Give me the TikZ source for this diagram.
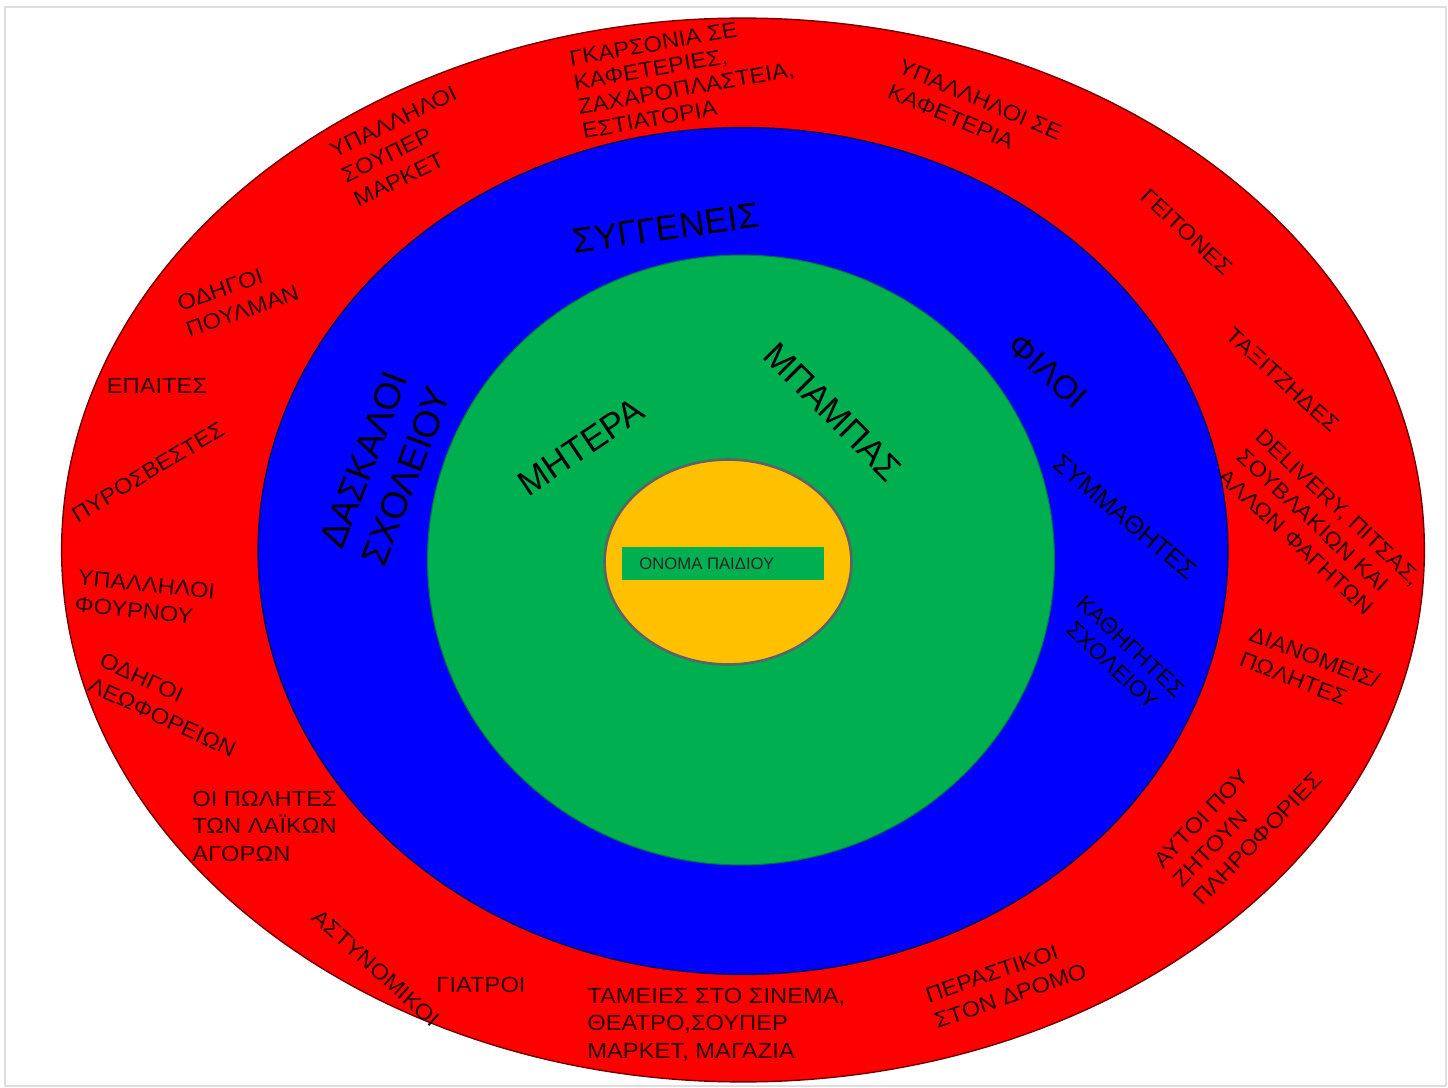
\documentclass[tikz,border=0pt]{standalone}
\usepackage{fontspec}
\setmainfont{Liberation Sans}
\newfontfamily\widefont[FakeStretch=1.08]{Liberation Sans}
\usetikzlibrary{shapes.geometric}
\definecolor{ringred}{RGB}{255,0,0}
\definecolor{ringblue}{RGB}{0,0,255}
\definecolor{ringgreen}{RGB}{0,176,80}
\definecolor{coreyellow}{RGB}{255,192,0}
\definecolor{txtdark}{RGB}{40,0,0}
\definecolor{edgegray}{RGB}{90,100,100}
\begin{document}
\begin{tikzpicture}[x=0.02cm,y=-0.02cm,
  ringnode/.style={ellipse, inner sep=0pt, outer sep=0pt},
  redtxt/.style={font=\widefont\fontsize{12.5}{15.5}\selectfont, align=left, text=txtdark, inner sep=0pt},
  bigtxt/.style={font=\fontsize{20}{25}\selectfont, align=center, text=black, inner sep=0pt},
  midtxt/.style={font=\fontsize{14.5}{17}\selectfont, align=center, text=black, inner sep=0pt}]
\useasboundingbox (0,0) rectangle (1448,1088);
\fill[white] (0,0) rectangle (1448,1088);
\draw[gray!25, line width=1.2pt] (5,7) rectangle (1446,1086);

% outer red ring
\node[ringnode, fill=ringred, draw=red!45!black, line width=0.8pt,
  minimum width=27.26cm, minimum height=21.28cm] (outer) at (743,550) {};

% red ring labels
\node[redtxt, rotate=26] (supermarket) at (405,146) {ΥΠΑΛΛΗΛΟΙ\\ΣΟΥΠΕΡ\\ΜΑΡΚΕΤ};
\node[redtxt, font=\widefont\fontsize{12.5}{14}\selectfont, rotate=10] (garsonia) at (684,76) {ΓΚΑΡΣΟΝΙΑ ΣΕ\\ΚΑΦΕΤΕΡΙΕΣ,\\ΖΑΧΑΡΟΠΛΑΣΤΕΙΑ,\\ΕΣΤΙΑΤΟΡΙΑ};
\node[redtxt, rotate=-23] (kafeteria) at (975,112) {ΥΠΑΛΛΗΛΟΙ ΣΕ\\ΚΑΦΕΤΕΡΙΑ};
\node[redtxt, rotate=-43] (geitones) at (1187,232) {ΓΕΙΤΟΝΕΣ};
\node[redtxt, rotate=-42] (taxi) at (1283,380) {ΤΑΞΙΤΖΗΔΕΣ};
\node[redtxt, rotate=-43] (delivery) at (1320,527) {DELIVERY, ΠΙΤΣΑΣ,\\ΣΟΥΒΛΑΚΙΩΝ ΚΑΙ\\ΑΛΛΩΝ ΦΑΓΗΤΩΝ};
\node[redtxt, rotate=-21] (dianomeis) at (1310,670) {ΔΙΑΝΟΜΕΙΣ/\\ΠΩΛΗΤΕΣ};
\node[redtxt, rotate=46] (plirofories) at (1238,820) {ΑΥΤΟΙ ΠΟΥ\\ΖΗΤΟΥΝ\\ΠΛΗΡΟΦΟΡΙΕΣ};
\node[redtxt, rotate=19] (perastikoi) at (1006,983) {ΠΕΡΑΣΤΙΚΟΙ\\ΣΤΟΝ ΔΡΟΜΟ};
\node[redtxt, anchor=north west] (tameies) at (587,988) {ΤΑΜΕΙΕΣ ΣΤΟ ΣΙΝΕΜΑ,\\ΘΕΑΤΡΟ,ΣΟΥΠΕΡ\\ΜΑΡΚΕΤ, ΜΑΓΑΖΙΑ};
\node[redtxt] (giatroi) at (481,985) {ΓΙΑΤΡΟΙ};
\node[redtxt, rotate=-42] (astynomikoi) at (376,968) {ΑΣΤΥΝΟΜΙΚΟΙ};
\node[redtxt, anchor=north west] (laikes) at (192,791) {ΟΙ ΠΩΛΗΤΕΣ\\ΤΩΝ ΛΑΪΚΩΝ\\ΑΓΟΡΩΝ};
\node[redtxt, rotate=-25] (leoforeia) at (168,705) {ΟΔΗΓΟΙ\\ΛΕΩΦΟΡΕΙΩΝ};
\node[redtxt, rotate=-6] (fournos) at (145,598) {ΥΠΑΛΛΗΛΟΙ\\ΦΟΥΡΝΟΥ};
\node[redtxt, rotate=31] (pyrosvestes) at (148,472) {ΠΥΡΟΣΒΕΣΤΕΣ};
\node[redtxt] (epaites) at (157,386) {ΕΠΑΙΤΕΣ};
\node[redtxt, rotate=19] (poulman) at (238,298) {ΟΔΗΓΟΙ\\ΠΟΥΛΜΑΝ};

% blue ring
\node[ringnode, fill=ringblue, draw=blue!40!black, line width=0.8pt,
  minimum width=19.4cm, minimum height=16.94cm] (middle) at (743,551) {};
\node[bigtxt, rotate=8] (syggeneis) at (666,228) {ΣΥΓΓΕΝΕΙΣ};
\node[bigtxt, font=\fontsize{21}{26}\selectfont, rotate=69] (daskaloi) at (385,468) {ΔΑΣΚΑΛΟΙ\\ΣΧΟΛΕΙΟΥ};
\node[midtxt, font=\fontsize{19}{22}\selectfont, rotate=-42] (filoi) at (1048,371) {ΦΙΛΟΙ};
\node[midtxt, rotate=-40] (symmathites) at (1125,517) {ΣΥΜΜΑΘΗΤΕΣ};
\node[midtxt, font=\fontsize{13}{15}\selectfont, rotate=-43] (kathigites) at (1122,656) {ΚΑΘΗΓΗΤΕΣ\\ΣΧΟΛΕΙΟΥ};

% green ring
\node[ringnode, fill=ringgreen, draw=ringgreen!70!black, line width=0.6pt,
  minimum width=12.54cm, minimum height=12.2cm] (inner) at (741,560) {};
\node[bigtxt, rotate=34] (mitera) at (581,447) {ΜΗΤΕΡΑ};
\node[bigtxt, rotate=-45] (babas) at (833,412) {ΜΠΑΜΠΑΣ};

% core
\node[ringnode, fill=coreyellow, draw=edgegray, line width=1.5pt,
  minimum width=4.94cm, minimum height=4.1cm] (core) at (728,562) {};
\node[fill=ringgreen, inner sep=0pt, minimum width=4.04cm, minimum height=0.66cm] (namebox) at (723,563.5) {};
\node[font=\fontsize{9.5}{11}\selectfont, text=black!85, anchor=west, inner sep=0pt] (name) at (639,563.5) {ΟΝΟΜΑ ΠΑΙΔΙΟΥ};
\end{tikzpicture}
\end{document}
